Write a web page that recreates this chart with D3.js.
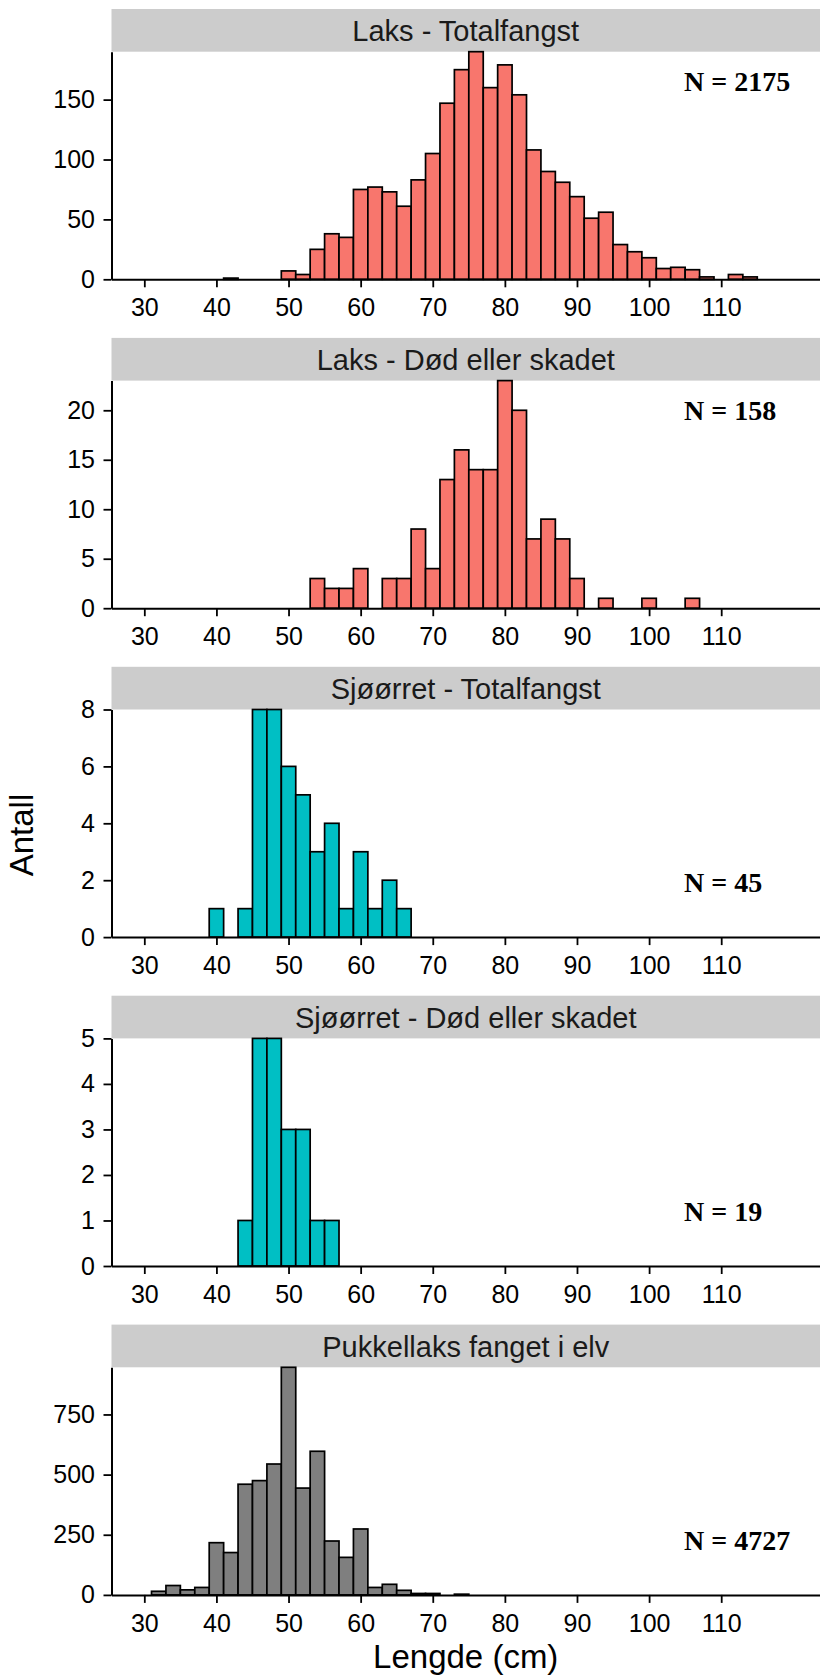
<!DOCTYPE html>
<html>
<head>
<meta charset="utf-8">
<script src="https://cdn.jsdelivr.net/npm/d3@7"></script>
<style>
  body { margin: 0; background: #fff; }
  svg text { font-family: "Liberation Sans", Arial, sans-serif; }
</style>
</head>
<body>
<script>
// length bins (cm, midpoints of 2 cm bins) and counts per panel
var laksTotalLen = [42, 50, 52, 54, 56, 58, 60, 62, 64, 66, 68, 70, 72, 74, 76, 78, 80, 82, 84, 86, 88, 90, 92, 94, 96, 98, 100, 102, 104, 106, 108, 112, 114];
var laksTotalCount = [1, 7, 4, 25, 38, 35, 75, 77, 73, 61, 83, 105, 147, 175, 190, 160, 179, 154, 108, 90, 81, 69, 51, 56, 29, 23, 18, 9, 10, 8, 2, 4, 2];

var laksDeadLen = [54, 56, 58, 60, 64, 66, 68, 70, 72, 74, 76, 78, 80, 82, 84, 86, 88, 90, 94, 100, 106];
var laksDeadCount = [3, 2, 2, 4, 3, 3, 8, 4, 13, 16, 14, 14, 23, 20, 7, 9, 7, 3, 1, 1, 1];

var troutTotalLen = [40, 44, 46, 48, 50, 52, 54, 56, 58, 60, 62, 64, 66];
var troutTotalCount = [1, 1, 8, 8, 6, 5, 3, 4, 1, 3, 1, 2, 1];

var troutDeadLen = [44, 46, 48, 50, 52, 54, 56];
var troutDeadCount = [1, 5, 5, 3, 3, 1, 1];

var pinkLen = [32, 34, 36, 38, 40, 42, 44, 46, 48, 50, 52, 54, 56, 58, 60, 62, 64, 66, 68, 70, 74];
var pinkCount = [15, 39, 21, 31, 217, 176, 460, 475, 544, 946, 444, 597, 224, 156, 274, 31, 44, 19, 6, 6, 3];

var titles = ["Laks - Totalfangst", "Laks - Død eller skadet", "Sjøørret - Totalfangst", "Sjøørret - Død eller skadet", "Pukkellaks fanget i elv"];
var nLabels = ["N = 2175", "N = 158", "N = 45", "N = 19", "N = 4727"];
var nPlace = ["top", "top", "bottom", "bottom", "bottom"];
var fills = ["#F8766D", "#F8766D", "#00BFC4", "#00BFC4", "#7F7F7F"];
var yTicks = [[0, 50, 100, 150], [0, 5, 10, 15, 20], [0, 2, 4, 6, 8], [0, 1, 2, 3, 4, 5], [0, 250, 500, 750]];
var xTicks = [30, 40, 50, 60, 70, 80, 90, 100, 110];

var lens = [laksTotalLen, laksDeadLen, troutTotalLen, troutDeadLen, pinkLen];
var counts = [laksTotalCount, laksDeadCount, troutTotalCount, troutDeadCount, pinkCount];

var W = 820, H = 1677;
var left = 111.5, right = 820;
var top0 = 9, pitch = 328.9, stripH = 42.7, plotH = 227.6;
var binW = 2;

var svg = d3.select("body").append("svg")
  .attr("width", W)
  .attr("height", H);

var x = d3.scaleLinear().domain([25.45, 123.7]).range([left, right]);

titles.forEach(function(title, i) {
  var data = lens[i].map(function(l, j) { return {len: l, n: counts[i][j]}; });
  var stripTop = top0 + i * pitch;
  var plotTop = stripTop + stripH;
  var plotBottom = plotTop + plotH;

  var y = d3.scaleLinear()
    .domain([0, d3.max(data, function(d) { return d.n; })])
    .range([plotBottom, plotTop]);

  var g = svg.append("g");

  // strip
  g.append("rect")
    .attr("x", left).attr("y", stripTop)
    .attr("width", right - left).attr("height", stripH)
    .attr("fill", "#cccccc");
  g.append("text")
    .attr("x", (left + right) / 2)
    .attr("y", stripTop + stripH / 2 + 1)
    .attr("text-anchor", "middle")
    .attr("dominant-baseline", "central")
    .attr("font-size", 29)
    .attr("fill", "#1a1a1a")
    .text(title);

  // bars
  g.selectAll("rect.bar")
    .data(data)
    .enter().append("rect")
    .attr("class", "bar")
    .attr("x", function(d) { return x(d.len - binW / 2); })
    .attr("width", function(d) { return x(d.len + binW / 2) - x(d.len - binW / 2); })
    .attr("y", function(d) { return y(d.n); })
    .attr("height", function(d) { return plotBottom - y(d.n); })
    .attr("fill", fills[i])
    .attr("stroke", "#000")
    .attr("stroke-width", 1.7);

  // axes
  var ax = g.append("g")
    .attr("transform", "translate(0," + plotBottom + ")")
    .call(d3.axisBottom(x).tickValues(xTicks).tickSize(8).tickSizeOuter(0).tickPadding(11));
  var ay = g.append("g")
    .attr("transform", "translate(" + left + ",0)")
    .call(d3.axisLeft(y).tickValues(yTicks[i]).tickFormat(d3.format("d"))
      .tickSize(8).tickSizeOuter(0).tickPadding(8.5));

  [ax, ay].forEach(function(a) {
    a.select(".domain").attr("stroke", "#000").attr("stroke-width", 2);
    a.selectAll(".tick line").attr("stroke", "#000").attr("stroke-width", 1.8);
    a.selectAll(".tick text")
      .attr("font-size", 25)
      .attr("fill", "#000")
      .style("font-family", "'Liberation Sans', Arial, sans-serif");
  });

  // N label
  g.append("text")
    .attr("x", 684)
    .attr("y", nPlace[i] == "top" ? plotTop + 39 : plotBottom - 45)
    .attr("font-size", 28)
    .attr("font-weight", "bold")
    .style("font-family", "'Liberation Serif', 'Times New Roman', serif")
    .attr("fill", "#000")
    .text(nLabels[i]);
});

// axis titles
svg.append("text")
  .attr("x", (left + right) / 2)
  .attr("y", 1668)
  .attr("text-anchor", "middle")
  .attr("font-size", 33)
  .attr("fill", "#000")
  .text("Lengde (cm)");

svg.append("text")
  .attr("transform", "translate(33,835) rotate(-90)")
  .attr("text-anchor", "middle")
  .attr("font-size", 33)
  .attr("fill", "#000")
  .text("Antall");
</script>
</body>
</html>
